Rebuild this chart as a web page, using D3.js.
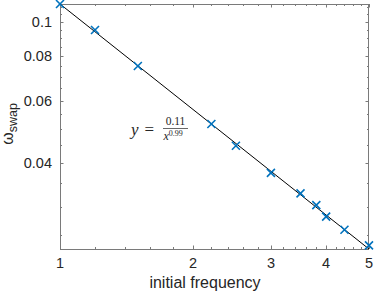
<!DOCTYPE html>
<html><head><meta charset="utf-8">
<script src="https://cdn.jsdelivr.net/npm/d3@7"></script>
<style>
html,body{margin:0;padding:0;background:#fff;}
svg{display:block;}
text{font-family:"Liberation Sans",Arial,sans-serif;fill:#262626;}
</style></head>
<body>
<svg id="chart" width="374" height="294"></svg>
<script>
// data
const frequencies = [1, 1.2, 1.5, 2.2, 2.5, 3, 3.5, 3.8, 4, 4.4, 5];
const omegaSwap = [0.1124, 0.0949, 0.0751, 0.0515, 0.0447, 0.0375, 0.0328, 0.0304, 0.0282, 0.0259, 0.0234];
const xTicks = [1, 2, 3, 4, 5];
const xMinorTicks = [1.2,1.4,1.6,1.8,2.2,2.4,2.6,2.8,3.2,3.4,3.6,3.8,4.2,4.4,4.6,4.8];
const yTicks = [0.04, 0.06, 0.08, 0.1];
const yMinorTicks = [0.025,0.03,0.035,0.045,0.05,0.055,0.065,0.07,0.075,0.085,0.09,0.095,0.105,0.11];
const fitA = 0.1124, fitB = 0.99;
const fitX = [1, 5];
const xDomain = [1, 5];
const yDomain = [0.02285, 0.1124];

const W = 374, H = 294;
const m = {left: 60, right: 5, top: 4, bottom: 45};
const svg = d3.select("#chart");
const x = d3.scaleLog().domain(xDomain).range([m.left, W - m.right]);
const y = d3.scaleLog().domain(yDomain).range([H - m.bottom, m.top]);
const x0 = m.left, x1 = W - m.right, y0 = H - m.bottom, y1 = m.top;
const axisColor = "#7a7a7a";
const tickLen = 3.5, minorLen = 2;

const g = svg.append("g");
// ticks (inward, mirrored)
function vt(v, len) {
  const px = Math.round(x(v)) + 0.5;
  g.append("line").attr("x1", px).attr("x2", px).attr("y1", y0).attr("y2", y0 - len).attr("stroke", axisColor);
  g.append("line").attr("x1", px).attr("x2", px).attr("y1", y1).attr("y2", y1 + len).attr("stroke", axisColor);
}
function ht(v, len) {
  const py = Math.round(y(v)) + 0.5;
  g.append("line").attr("y1", py).attr("y2", py).attr("x1", x0).attr("x2", x0 + len).attr("stroke", axisColor);
  g.append("line").attr("y1", py).attr("y2", py).attr("x1", x1).attr("x2", x1 - len).attr("stroke", axisColor);
}
xTicks.forEach(v => vt(v, tickLen));
xMinorTicks.forEach(v => vt(v, minorLen));
yTicks.forEach(v => ht(v, tickLen));
yMinorTicks.forEach(v => ht(v, minorLen));

// box
g.append("rect").attr("x", x0 + 0.5).attr("y", y1 + 0.5).attr("width", x1 - x0 - 1).attr("height", y0 - y1)
  .attr("fill", "none").attr("stroke", axisColor);

// tick labels
xTicks.forEach(v => {
  g.append("text").attr("x", x(v)).attr("y", 268).attr("text-anchor", "middle")
    .attr("font-size", 14.5).text(d3.format("")(v));
});
yTicks.forEach(v => {
  g.append("text").attr("x", 52).attr("y", y(v) + 5).attr("text-anchor", "end")
    .attr("font-size", 14.5).text(String(v));
});

// axis labels
g.append("text").attr("x", 205).attr("y", 288).attr("text-anchor", "middle")
  .attr("font-size", 16).text("initial frequency");
const yl = g.append("text").attr("transform", "translate(13,124) rotate(-90)")
  .attr("text-anchor", "middle").attr("font-size", 16);
yl.append("tspan").text("ω");
yl.append("tspan").attr("dy", 4).attr("font-size", 12.5).text("swap");

// fit line
const line = d3.line().x(d => x(d)).y(d => y(fitA * Math.pow(d, -fitB)));
svg.append("path").datum(fitX).attr("d", line).attr("fill", "none")
  .attr("stroke", "#000").attr("stroke-width", 1);

// markers
const s = 4;
svg.append("g").selectAll("path").data(frequencies.map((f, i) => [f, omegaSwap[i]]))
  .join("path")
  .attr("d", d => {
    const cx = x(d[0]), cy = y(d[1]);
    return `M${cx - s},${cy - s}L${cx + s},${cy + s}M${cx - s},${cy + s}L${cx + s},${cy - s}`;
  })
  .attr("stroke", "#0072BD").attr("stroke-width", 1.6).attr("fill", "none");

// annotation
const serifF = '"Liberation Serif","DejaVu Serif",serif';
const ann = svg.append("g");
ann.append("text").attr("x", 131).attr("y", 135).attr("font-size", 17).attr("font-style", "italic")
  .style("font-family", serifF).text("y");
ann.append("text").attr("x", 144.5).attr("y", 135).attr("font-size", 17)
  .style("font-family", serifF).text("=");
ann.append("text").attr("x", 175.5).attr("y", 124.5).attr("font-size", 11.5).attr("text-anchor", "middle")
  .style("font-family", serifF).text("0.11");
ann.append("line").attr("x1", 163).attr("x2", 188).attr("y1", 128.5).attr("y2", 128.5)
  .attr("stroke", "#262626").attr("stroke-width", 0.7);
const den = ann.append("text").attr("x", 163.5).attr("y", 139.5).attr("font-size", 12)
  .style("font-family", serifF);
den.append("tspan").attr("font-style", "italic").text("x");
den.append("tspan").attr("dy", -3.5).attr("font-size", 8).text("0.99");
</script>
</body></html>
